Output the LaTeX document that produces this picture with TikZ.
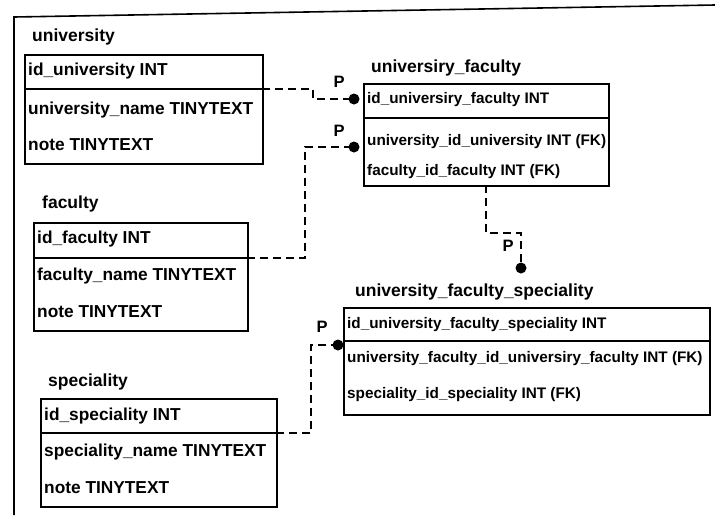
\documentclass[tikz,border=0pt]{standalone}
\usepackage{fontspec}
\setmainfont{Liberation Sans}
\begin{document}
\begin{tikzpicture}[x=1pt,y=-1pt,
  tbl/.style={draw,line width=1.6pt,anchor=north west,inner sep=0pt},
  row/.style={anchor=west,inner sep=0pt,font=\bfseries\fontsize{17.3}{19}\selectfont},
  rowr/.style={anchor=west,inner sep=0pt,font=\bfseries\fontsize{15.3}{17}\selectfont},
  ttl/.style={anchor=west,inner sep=0pt,font=\bfseries\fontsize{17.5}{19}\selectfont},
  conn/.style={line width=1.4pt,dash pattern=on 8pt off 5pt},
  dot/.style={circle,fill=black,inner sep=0pt,minimum size=11pt},
  plab/.style={inner sep=0pt,font=\bfseries\fontsize{16.5}{18}\selectfont}]
\useasboundingbox (0,0) rectangle (715,515);
\fill[white] (0,0) rectangle (715,515);
% outer frame
\coordinate (fa) at (14,515);
\coordinate (fb) at (14,17);
\coordinate (fc) at (715,5);
\draw[line width=1.6pt] (fa) -- (fb) -- (fc);

% university
\node[ttl] (tU) at (32,37) {university};
\node[tbl,minimum width=238pt,minimum height=109pt] (U) at (24,54) {};
\draw[line width=1.6pt] (24,89) coordinate (Uw) -- (262,89) coordinate (Ue);
\node[row] (U1) at (28,71) {id\_university INT};
\node[row] (U2) at (28,110) {university\_name TINYTEXT};
\node[row] (U3) at (28,145) {note TINYTEXT};

% faculty
\node[ttl] (tF) at (42,204) {faculty};
\node[tbl,minimum width=214pt,minimum height=108pt] (F) at (33,222) {};
\draw[line width=1.6pt] (33,258) coordinate (Fw) -- (247,258) coordinate (Fe);
\node[row] (F1) at (37,239) {id\_faculty INT};
\node[row] (F2) at (37,276) {faculty\_name TINYTEXT};
\node[row] (F3) at (37,312) {note TINYTEXT};

% speciality
\node[ttl] (tS) at (48,382) {speciality};
\node[tbl,minimum width=236pt,minimum height=108pt] (S) at (40,398) {};
\draw[line width=1.6pt] (40,433) coordinate (Sw) -- (276,433) coordinate (Se);
\node[row] (S1) at (44,416) {id\_speciality INT};
\node[row] (S2) at (44,452) {speciality\_name TINYTEXT};
\node[row] (S3) at (44,488) {note TINYTEXT};

% universiry_faculty
\node[ttl] (tUF) at (371,68) {universiry\_faculty};
\node[tbl,minimum width=245pt,minimum height=102pt] (UF) at (363,83) {};
\draw[line width=1.6pt] (363,118) coordinate (UFw) -- (608,118) coordinate (UFe);
\node[rowr] (UF1) at (367,100) {id\_universiry\_faculty INT};
\node[rowr] (UF2) at (367,142) {university\_id\_university INT (FK)};
\node[rowr] (UF3) at (367,172) {faculty\_id\_faculty INT (FK)};

% university_faculty_speciality
\node[ttl] (tUFS) at (355,292) {university\_faculty\_speciality};
\node[tbl,minimum width=366pt,minimum height=107pt] (UFS) at (343,307) {};
\draw[line width=1.6pt] (343,341) coordinate (UFSw) -- (709,341) coordinate (UFSe);
\node[rowr] (UFS1) at (347,325) {id\_university\_faculty\_speciality INT};
\node[rowr] (UFS2) at (347,359) {university\_faculty\_id\_universiry\_faculty INT (FK)};
\node[rowr] (UFS3) at (347,395) {speciality\_id\_speciality INT (FK)};

% connectors
\coordinate (UFb) at (486,185);
\coordinate (d1) at (354,99);
\coordinate (d2) at (354,147);
\coordinate (d3) at (521,268);
\coordinate (d4) at (338,345);
\draw[conn] (Ue) -- (313,89) |- (d1);
\draw[conn] (Fe) -- (305,258) |- (d2);
\draw[conn] (UFb) -- (486,233) -| (d3);
\draw[conn] (Se) -- (311,433) |- (d4);
\node[dot] (n1) at (d1) {};
\node[dot] (n2) at (d2) {};
\node[dot] (n3) at (d3) {};
\node[dot] (n4) at (d4) {};

\node[plab] (p1) at (339,82) {P};
\node[plab] (p2) at (339,131) {P};
\node[plab] (p3) at (508,246) {P};
\node[plab] (p4) at (322,327) {P};
\end{tikzpicture}
\end{document}
